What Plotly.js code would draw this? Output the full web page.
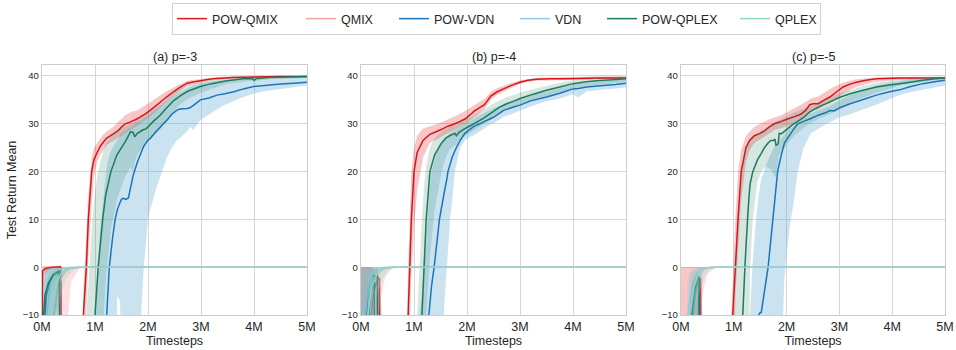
<!DOCTYPE html>
<html>
<head>
<meta charset="utf-8">
<script src="https://cdn.plot.ly/plotly-3.0.1.min.js"></script>
<style>html,body{margin:0;padding:0;background:#fff;}#chart{width:956px;height:350px;}</style>
</head>
<body>
<div id="chart"></div>
<script>
// ---------------- DATA ----------------
// rows: [timestep (millions), mean, lower, upper]
const SERIES_NAMES = ["POW-QMIX", "QMIX", "POW-VDN", "VDN", "POW-QPLEX", "QPLEX"];
const PANEL_TITLES = ["(a) p=-3", "(b) p=-4", "(c) p=-5"];
const X_TICK_VALS = [0, 1, 2, 3, 4, 5];
const X_TICK_TEXT = ["0M", "1M", "2M", "3M", "4M", "5M"];
const Y_TICK_VALS = [-10, 0, 10, 20, 30, 40];

// ---- panel (a) p=-3 ----
const A_POW_QMIX = [
 [0,-80,-80,-80],[0.01,-0.8,-3,0.2],[0.05,-0.4,-1.5,0.2],[0.1,-0.15,-0.8,0.2],[0.2,0,-0.3,0.2],[0.35,0.1,-0.2,0.3],[0.36,-0.3,-1,0.3],[0.375,-80,-80,-80],
 [0.76,-80,-80,-80],[0.78,-10,-40,-5],[0.836,0,-9,8],[0.874,10,2,15],[0.937,20,13,23],[0.98,22.5,19,25],[1.04,24,22,26],[1.1,25.3,23.5,27],
 [1.16,26.2,24.5,27.8],[1.22,27,25.5,28.4],[1.28,27.4,26,28.8],[1.36,28,26.5,29.5],[1.44,28.6,27,30.5],[1.5,29.3,27.5,31],[1.57,30,28,31.8],
 [1.63,30.2,28.5,32.2],[1.69,30.5,28.8,32.5],[1.77,30.9,29.5,32.7],[1.85,31.4,30,33.2],[1.95,32.1,30.8,33.8],[2.04,32.8,31.5,34.5],[2.13,33.6,32.4,35.2],
 [2.23,34.5,33.3,36],[2.35,35.6,34.5,36.8],[2.48,36.7,35.8,37.6],[2.6,37.6,36.9,38.3],[2.74,38.5,38,39],[2.87,38.8,38.3,39.2],[2.99,39,38.6,39.4],
 [3.15,39.3,39,39.6],[3.3,39.5,39.2,39.8],[3.6,39.7,39.5,39.9],[4,39.8,39.6,40],[4.5,39.9,39.7,40],[5,39.9,39.7,40]
];
const A_QMIX = [
 [0.15,-80,-80,-80],[0.2,-12,-80,-3],[0.3,-4,-60,-0.8],[0.4,-1.5,-40,-0.2],[0.48,-0.6,-12,0],[0.55,-0.2,-3,0],[0.7,0,-0.3,0],[0.9,0,0,0],[5,0,0,0]
];
const A_POW_VDN = [
 [0,-80,-80,-80],[0.03,-14,-60,-3],[0.08,-6,-40,-0.5],[0.15,-3,-20,0],[0.25,-1.5,-12,0],[0.33,-1,-10,0],[0.35,-80,-80,-80],
 [0.95,-80,-80,-80],[1,-80,-80,-10],[1.1,-60,-80,8],[1.22,-10,-80,21],[1.27,0,-80,23.5],[1.33,6,-60,25],[1.38,10,-30,26],[1.42,12,-6,26.8],
 [1.47,13.5,-7,27.5],[1.5,14.2,-30,28],[1.53,14.4,-60,28.3],[1.58,14.2,-60,28.6],[1.63,14.5,-60,29],[1.72,19.2,-40,29.6],[1.8,22,-25,30.2],
 [1.85,23.4,-15,30.6],[1.92,25.3,0,31],[2,26.6,10,31.6],[2.04,26.9,12,32],[2.17,28.6,17,33],[2.29,30,21,34],[2.36,30.8,23,34.6],[2.45,32,25,35.5],
 [2.54,32.8,26.5,36.2],[2.6,33.1,27,36.6],[2.74,33.2,28.5,37.4],[2.8,33.4,29.4,37.7],[2.85,33.8,28.7,38],[2.99,35,30.8,38.5],[3.15,35.4,32,38.8],
 [3.3,36,33,39],[3.45,36.3,34,39.2],[3.62,36.7,34.8,39.3],[3.8,37.3,35.6,39.4],[3.99,37.8,36.3,39.5],[4.2,38,36.8,39.5],[4.5,38.3,37.3,39.6],
 [4.75,38.5,37.7,39.7],[5,38.7,38,39.8]
];
const A_VDN = [
 [0.05,-80,-80,-80],[0.09,-10,-40,-3],[0.15,-4,-12,-1],[0.25,-1.2,-4,-0.3],[0.35,-0.4,-1.5,0],[0.5,-0.05,-0.3,0],[0.65,0,0,0],[5,0,0,0]
];
const A_POW_QPLEX = [
 [0,-80,-80,-80],[0.02,-12,-60,-1],[0.057,-5.8,-40,-0.5],[0.12,-3.3,-20,-0.2],[0.21,-1.6,-12,0],[0.31,-0.9,-8,0],[0.33,-0.8,-8,0],[0.345,-80,-80,-80],
 [0.8,-80,-80,-60],[0.84,-60,-80,-10],[0.9,-40,-80,2],[0.95,-25,-80,10],[1,-10,-60,16],[1.06,0,-40,20],[1.145,10,-15,24],[1.2,15,-3,26],
 [1.3,20,8,27.5],[1.41,23.4,14,28.5],[1.5,25,17,29],[1.57,26.2,19,29.5],[1.67,28.3,21,30],[1.72,28.2,20,30.2],[1.75,27.3,22,30.5],[1.8,28,23.5,31],
 [1.9,28.7,25,31.6],[1.97,29,26,32],[2.1,30.5,27.5,33],[2.23,31.8,28.8,34],[2.35,33.3,30.5,35.2],[2.48,34.8,32.5,36.4],[2.6,35.8,34,37.5],
 [2.75,36.8,35.2,38.2],[2.99,37.8,36.5,38.8],[3.2,38.4,37.3,39.2],[3.49,39,38.3,39.5],[3.8,39.4,38.8,39.7],[3.97,39.5,39,39.8],[4,39.1,38.7,39.8],
 [4.05,39.5,39,39.8],[4.3,39.7,39.3,39.9],[5,39.9,39.6,40]
];
const A_QPLEX = [
 [0.1,-80,-80,-80],[0.17,-10,-40,-3],[0.25,-4,-14,-1],[0.35,-1.5,-6,-0.3],[0.45,-0.5,-2.5,0],[0.6,-0.1,-0.5,0],[0.8,0,0,0],[5,0,0,0]
];

// ---- panel (b) p=-4 ----
const B_POW_QMIX = [
 [0,-80,-80,0],[0.15,-60,-80,0],[0.195,-10,-60,0],[0.23,-6,-40,-0.5],[0.28,-3.5,-20,-0.5],[0.33,-2.3,-12,-0.5],[0.35,-2.5,-15,-1],[0.37,-80,-80,-80],
 [0.85,-80,-80,-80],[0.87,-40,-80,-10],[0.89,-10,-50,0],[0.92,0,-12,12],[0.95,10,-2,20],[1,20,8,25],[1.06,24,16,27.5],[1.17,26.5,23,29],
 [1.3,27.8,26,29.4],[1.45,28.5,27,30],[1.55,29,27.5,30.5],[1.64,29.5,28,31],[1.77,30,28.8,31.6],[1.87,30.5,29.3,32.1],[1.96,31,29.8,32.6],
 [2.05,31.8,30.6,33.3],[2.14,32.7,31.5,34],[2.24,33.4,32.3,34.6],[2.33,34,33,35.2],[2.45,35.8,35,36.7],[2.57,36.7,36,37.5],[2.69,37.3,36.7,38],
 [2.85,38.1,37.6,38.6],[3,38.7,38.3,39.1],[3.15,39.1,38.8,39.4],[3.31,39.3,39,39.6],[3.55,39.4,39.1,39.7],[3.82,39.4,39.1,39.7],[4.1,39.5,39.2,39.8],
 [4.45,39.6,39.3,39.9],[4.75,39.6,39.3,40],[5,39.6,39.3,40]
];
const B_QMIX = [
 [0.1,-80,-80,-80],[0.15,-10,-60,-2],[0.22,-4,-30,-0.5],[0.3,-1.5,-14,0],[0.38,-0.5,-6,0],[0.46,-0.1,-2,0],[0.6,0,0,0],[5,0,0,0]
];
const B_POW_VDN = [
 [0,-80,-80,0],[0.07,-60,-80,0],[0.1,-10,-60,0],[0.14,-4.5,-40,0],[0.19,-2.3,-20,0],[0.23,-1.6,-14,0],[0.25,-1.8,-14,-0.5],[0.26,-80,-80,-80],
 [1.08,-80,-80,-80],[1.11,-80,-80,-10],[1.2,-60,-80,0],[1.25,-30,-80,10],[1.28,-10,-80,15],[1.33,-4,-80,20],[1.38,0,-80,22],[1.45,7,-60,25],
 [1.48,10,-40,25.5],[1.56,15,-10,26.5],[1.62,18.5,0,27.3],[1.64,20,3,27.6],[1.68,21.5,10,28],[1.72,23,14,28.3],[1.77,24.3,20,28.6],[1.8,25,21.5,28.8],
 [1.87,26.5,25,29.2],[1.96,28,26.5,29.8],[2.05,28.8,27.2,30.5],[2.14,29.5,27.7,31.2],[2.24,30,28.3,31.8],[2.33,30.5,29,32.3],[2.43,31,29.8,32.8],
 [2.52,31.5,30.2,33.3],[2.69,32.8,31.4,34.2],[2.85,33.4,32.1,34.8],[3,33.9,32.7,35.3],[3.2,34.8,33.6,36],[3.5,35.6,34.7,36.7],[3.75,36.4,35.3,37.4],
 [4,37.3,36.2,38.2],[4.1,37.4,35.5,38.3],[4.26,37.7,36.8,38.6],[4.57,38,37.1,38.9],[4.8,38.2,37.3,39.1],[5,38.5,37.6,39.3]
];
const B_VDN = [
 [0.05,-80,-80,-80],[0.08,-10,-40,-3],[0.14,-4,-12,-1],[0.22,-1.3,-5,-0.2],[0.3,-0.4,-1.5,0],[0.42,-0.05,-0.3,0],[0.55,0,0,0],[5,0,0,0]
];
const B_POW_QPLEX = [
 [0,-80,-80,0],[0.1,-60,-80,0],[0.145,-10,-60,0],[0.18,-5.5,-40,0],[0.24,-2.8,-20,0],[0.29,-1.8,-14,0],[0.31,-1.6,-12,-0.5],[0.33,-80,-80,-3],
 [0.4,-80,-80,-10],[0.45,-80,-80,-80],
 [1.04,-80,-80,-80],[1.06,-80,-80,-10],[1.1,-60,-80,0],[1.15,-10,-60,10],[1.19,0,-40,17],[1.23,10,-10,21],[1.3,20,2,25],[1.39,23.5,12,27],
 [1.52,26,20,28.4],[1.6,27,23,29],[1.67,27.5,24.5,29.4],[1.77,28,25.5,30],[1.8,27.5,25.5,29.8],[1.85,28.2,26.5,30.3],[1.96,29,27.5,31],
 [2.08,29.7,28.3,31.6],[2.21,30.5,29.2,32.3],[2.33,31.3,30,33],[2.46,32.3,31,34],[2.6,33.4,32,34.8],[2.75,34.2,33,35.6],[2.9,34.8,33.5,36.1],
 [3,35.3,34,36.5],[3.25,36.2,35,37.3],[3.5,37,35.8,38],[3.75,37.7,36.6,38.6],[4,38.4,37.4,39.1],[4.25,38.8,37.9,39.4],[4.45,39,38.2,39.6],
 [4.75,39.2,38.5,39.7],[5,39.4,38.8,39.8]
];
const B_QPLEX = [
 [0.08,-80,-80,-80],[0.13,-10,-40,-2],[0.2,-4,-15,-0.8],[0.3,-1.5,-6,-0.2],[0.4,-0.5,-2.5,0],[0.5,-0.1,-0.8,0],[0.65,0,0,0],[5,0,0,0]
];

// ---- panel (c) p=-5 ----
const C_POW_QMIX = [
 [0,-80,-80,0],[0.18,-60,-80,0],[0.23,-10,-60,0],[0.27,-5.5,-40,0],[0.32,-3,-25,0],[0.35,-2.3,-20,0],[0.37,-2.6,-20,0],[0.38,-80,-80,0],
 [0.4,-80,-80,0],[0.41,-80,-80,-80],
 [0.93,-80,-80,-80],[0.95,-80,-80,-10],[0.98,-10,-60,-2],[1.03,0,-6,10],[1.08,10,4,20],[1.14,20,14,24.5],[1.23,25,22,27.5],[1.3,26.5,24.5,28.3],
 [1.39,27.5,26,29.4],[1.5,28,26.7,30],[1.58,28.5,27.3,30.5],[1.68,29.4,28,31],[1.77,30,28.7,31.3],[1.9,30.5,29.2,31.8],[2.02,31,29.5,32.5],
 [2.15,31.5,30.2,33.2],[2.27,32,31,34],[2.36,32.8,31.8,34.6],[2.44,34,32.6,35.2],[2.5,34.2,32.9,35.5],[2.6,34.2,33,35.7],[2.7,34.9,33.7,36.5],
 [2.82,35.6,34.3,37.3],[2.95,36.7,35.3,38],[3.07,37.7,36.3,38.6],[3.2,38.3,37,39],[3.32,38.7,37.7,39.3],[3.5,39.1,38.3,39.5],[3.7,39.4,38.8,39.7],
 [4.14,39.6,39.2,39.8],[4.5,39.6,39.3,39.9],[5,39.6,39.3,39.9]
];
const C_QMIX = [
 [0.12,-80,-80,-80],[0.18,-10,-60,-1],[0.25,-4,-30,-0.4],[0.33,-1.5,-14,0],[0.42,-0.5,-5,0],[0.5,-0.1,-1.5,0],[0.65,0,0,0],[5,0,0,0]
];
const C_POW_VDN = [
 [0,-80,-80,-80],[0.17,-60,-80,-12],[0.21,-10,-60,-5],[0.26,-5,-40,-3.5],[0.31,-2.8,-25,-2],[0.34,-2.3,-20,-2],[0.36,-80,-80,-80],
 [1.28,-80,-80,-80],[1.31,-80,-80,-10],[1.35,-80,-80,0],[1.42,-60,-80,10],[1.47,-10,-80,15],[1.5,-9.5,-80,17.5],[1.52,-9.5,-80,18.5],
 [1.57,-5.8,-80,20],[1.65,0,-80,22.5],[1.74,10,-80,24.7],[1.83,20,-60,26],[1.9,23.5,-20,27],[1.96,26,-2,28],[2.02,27,5,28.7],[2.08,28,10,29.2],
 [2.14,29,14,29.6],[2.21,30,20,30.4],[2.32,30.5,25,31.2],[2.46,31.1,28,32.2],[2.6,31.8,29,32.8],[2.76,32.4,30,33.5],[2.82,32.8,30.3,33.8],
 [2.9,32.7,30.7,34.3],[3,33.3,31.3,34.9],[3.2,34.2,32,36],[3.45,35.1,33,37],[3.7,36,34,38],[3.95,36.7,35.2,38.6],[4.14,37.1,36,39],
 [4.35,37.8,36.6,39.3],[4.58,38.4,37.1,39.5],[4.8,38.8,37.6,39.6],[5,39.1,38,39.7]
];
const C_VDN = [
 [0,-80,-80,-80],[0.13,-10,-40,-2],[0.2,-4,-14,-0.8],[0.28,-1.5,-6,-0.2],[0.36,-0.5,-2,0],[0.45,-0.1,-0.5,0],[0.6,0,0,0],[5,0,0,0]
];
const C_POW_QPLEX = [
 [0,-80,-80,-80],[0.15,-60,-80,-10],[0.2,-10,-60,-4],[0.24,-5.5,-40,-2.5],[0.29,-3,-25,-1.5],[0.33,-2,-18,-1],[0.35,-2.3,-18,-1.2],[0.37,-80,-80,-4],
 [0.42,-80,-80,-80],
 [0.96,-80,-80,-80],[1,-80,-80,-10],[1.04,-50,-80,0],[1.1,-30,-80,10],[1.17,-10,-80,22],[1.21,0,-80,25],[1.26,10,-40,26],[1.29,15,-10,26.5],
 [1.31,17.5,0,27],[1.36,20,10,27.4],[1.45,22.5,18,28],[1.52,23.8,20,28.5],[1.58,25,20.8,29],[1.65,26,21,29.4],[1.7,26.5,20.5,29.8],
 [1.75,26.5,19.5,30.2],[1.78,26.8,19,30.4],[1.8,25.5,19,30.5],[1.84,25.8,22,30.7],[1.86,28,23.5,30.8],[1.9,27.9,24,31],[2.02,29,26,31.7],
 [2.1,29.7,27,32.2],[2.21,30.5,28.2,32.7],[2.33,31.4,29.3,33.2],[2.44,32.5,30,33.7],[2.6,33.5,31,34.3],[2.82,34.6,32,35.5],[3,35.5,33.2,36.4],
 [3.2,36.3,34.5,37],[3.45,37,35.5,37.9],[3.7,37.7,36.5,38.6],[3.95,38.1,37.3,39],[4.14,38.4,38,39.3],[4.4,38.8,38.5,39.5],[4.58,39.1,38.8,39.6],
 [4.8,39.4,39.1,39.7],[5,39.6,39.3,39.8]
];
const C_QPLEX = [
 [0.1,-80,-80,-80],[0.17,-10,-40,-2],[0.25,-4,-15,-0.8],[0.33,-1.5,-6,-0.2],[0.42,-0.5,-2.5,0],[0.52,-0.1,-0.6,0],[0.7,0,0,0],[5,0,0,0]
];

// ---------------- STYLE ----------------
const LINE_COLORS = ["#d9141b", "#f4a3a8", "#1a75bc", "#92c9e6", "#1e7b5c", "#8fd8c4"];
const FILL_COLORS = ["rgba(228,26,28,0.25)", "rgba(244,163,168,0.35)", "rgba(107,174,214,0.35)",
                     "rgba(146,201,230,0.30)", "rgba(30,123,92,0.18)", "rgba(143,216,196,0.30)"];
const LEGEND_TEXT_WIDTHS = [84, 48, 76, 42, 88, 40];
const PANELS = [
  [A_POW_QMIX, A_QMIX, A_POW_VDN, A_VDN, A_POW_QPLEX, A_QPLEX],
  [B_POW_QMIX, B_QMIX, B_POW_VDN, B_VDN, B_POW_QPLEX, B_QPLEX],
  [C_POW_QMIX, C_QMIX, C_POW_VDN, C_VDN, C_POW_QPLEX, C_QPLEX]
];

const W = 956, H = 350;
const PX = [[42, 307], [361, 626], [681, 945]];
const PY = [65, 315];
const FONT = "Liberation Sans, Arial, Helvetica, sans-serif";
const TXT = "#262626";

const traces = [];
PANELS.forEach((panel, p) => {
  const xa = p === 0 ? "x" : "x" + (p + 1);
  const ya = p === 0 ? "y" : "y" + (p + 1);
  panel.forEach((rows, s) => {
    const xs = rows.map(r => r[0]);
    traces.push({x: xs, y: rows.map(r => r[2]), xaxis: xa, yaxis: ya, type: "scatter", mode: "lines",
      line: {width: 0, color: LINE_COLORS[s]}, showlegend: false, hoverinfo: "skip"});
    traces.push({x: xs, y: rows.map(r => r[3]), xaxis: xa, yaxis: ya, type: "scatter", mode: "lines",
      line: {width: 0, color: LINE_COLORS[s]}, fill: "tonexty", fillcolor: FILL_COLORS[s], showlegend: false, hoverinfo: "skip"});
    traces.push({x: xs, y: rows.map(r => r[1]), xaxis: xa, yaxis: ya, type: "scatter", mode: "lines",
      name: SERIES_NAMES[s], legendgroup: SERIES_NAMES[s], showlegend: p === 0,
      legendwidth: LEGEND_TEXT_WIDTHS[s],
      line: {width: 1.5, color: LINE_COLORS[s], simplify: false}});
  });
});

const layout = {
  width: W, height: H,
  margin: {l: 0, r: 0, t: 0, b: 0},
  paper_bgcolor: "#fff", plot_bgcolor: "#fff",
  font: {family: FONT, size: 12.5, color: TXT},
  showlegend: true,
  legend: {orientation: "h", x: 172 / W, xanchor: "left", y: 1 - 3 / H, yanchor: "top",
    bordercolor: "#d0d0d0", borderwidth: 1, font: {family: FONT, size: 12.5, color: TXT},
    itemwidth: 30, tracegroupgap: 0},
  annotations: []
};
PX.forEach((px, p) => {
  const sfx = p === 0 ? "" : String(p + 1);
  layout["xaxis" + sfx] = {
    domain: [px[0] / W, px[1] / W], anchor: "y" + sfx, range: [0, 5],
    tickmode: "array", tickvals: X_TICK_VALS, ticktext: X_TICK_TEXT,
    showgrid: true, gridcolor: "#d6d6d6", gridwidth: 1, zeroline: false,
    showline: true, mirror: true, linecolor: "#cccccc", linewidth: 1.25, ticks: "",
    tickfont: {family: FONT, size: 12.5, color: TXT},
    title: {text: "Timesteps", font: {family: FONT, size: 12.5, color: TXT}, standoff: 3}
  };
  layout["yaxis" + sfx] = {
    domain: [1 - PY[1] / H, 1 - PY[0] / H], anchor: "x" + sfx, range: [-10, 42.3],
    tickmode: "array", tickvals: Y_TICK_VALS,
    showgrid: true, gridcolor: "#d6d6d6", gridwidth: 1, zeroline: false,
    showline: true, mirror: true, linecolor: "#cccccc", linewidth: 1.25, ticks: "",
    tickfont: {family: FONT, size: 9.5, color: TXT},
    title: p === 0 ? {text: "Test Return Mean", font: {family: FONT, size: 12.5, color: TXT}, standoff: 3} : {text: ""}
  };
  layout.annotations.push({text: PANEL_TITLES[p], xref: "paper", yref: "paper",
    x: (px[0] + px[1]) / 2 / W, y: 1 - 57 / H, xanchor: "center", yanchor: "middle",
    showarrow: false, font: {family: FONT, size: 12.5, color: TXT}});
});

Plotly.newPlot("chart", traces, layout, {displayModeBar: false, staticPlot: true});
</script>
</body>
</html>
